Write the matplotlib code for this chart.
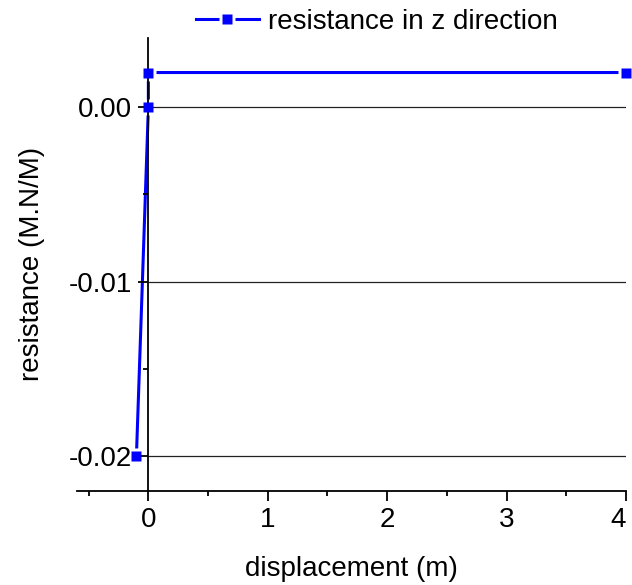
import matplotlib
matplotlib.use("Agg")
import matplotlib.pyplot as plt
from matplotlib.ticker import MultipleLocator
from matplotlib.legend_handler import HandlerTuple

plt.rcParams['font.family'] = ['Liberation Sans', 'DejaVu Sans']
plt.rcParams['font.size'] = 20

# data
displacement = [-0.1, 0.0, 0.0, 4.0]
resistance = [-0.02, 0.0, 0.002, 0.002]
series_label = 'resistance in z direction'
x_ticks = [0, 1, 2, 3, 4]
y_ticks = [-0.02, -0.01, 0.00]
y_tick_labels = ['-0.02', '-0.01', '0.00']

fig = plt.figure(figsize=(6.32, 5.85), dpi=100)
ax = fig.add_axes([0.1214, 0.1612, 0.8691, 0.7744])

blue = '#0000ff'
# line, then white squares to make the little gaps, then blue squares on top
ln, = ax.plot(displacement, resistance, color=blue, lw=2.2, zorder=1, clip_on=False)
gap, = ax.plot(displacement, resistance, ls='none', marker='s', ms=12,
               mfc='white', mec='none', zorder=1.5, clip_on=False)
mk, = ax.plot(displacement, resistance, ls='none', marker='s', ms=7.5,
              mfc=blue, mec='none', zorder=3, clip_on=False)

ax.set_xlim(-0.6, 4.0)
ax.set_ylim(-0.022, 0.004)

# horizontal grid from the y axis (x=0) to the right end
ax.hlines(y_ticks, 0, 4.0, colors='#222222', lw=0.9, zorder=2)

ax.spines['left'].set_position(('data', 0))
ax.spines['right'].set_visible(False)
ax.spines['top'].set_visible(False)
for s in ('left', 'bottom'):
    ax.spines[s].set_linewidth(1.3)
    ax.spines[s].set_zorder(2.5)

ax.set_xticks(x_ticks)
ax.set_yticks(y_ticks)
ax.set_yticklabels(y_tick_labels)
ax.xaxis.set_minor_locator(MultipleLocator(0.5))
ax.yaxis.set_minor_locator(MultipleLocator(0.005))
ax.tick_params(which='major', direction='out', length=7, width=1.3, pad=5)
ax.tick_params(which='minor', direction='out', length=3.5, width=1.3)
ax.get_xticklabels()[-1].set_horizontalalignment('right')

ax.set_xlabel('displacement (m)', labelpad=16)
ax.set_ylabel('resistance (M.N/M)')
ax.yaxis.set_label_coords(-0.058, 0.5)

fig.legend([(ln, gap, mk)], [series_label], handler_map={tuple: HandlerTuple(ndivide=1)},
           loc='center', bbox_to_anchor=(376.5 / 632, 1 - 22 / 585), frameon=False,
           handlelength=2.3, handletextpad=0.3, borderpad=0, numpoints=1)

fig.savefig('out.png', dpi=100)
